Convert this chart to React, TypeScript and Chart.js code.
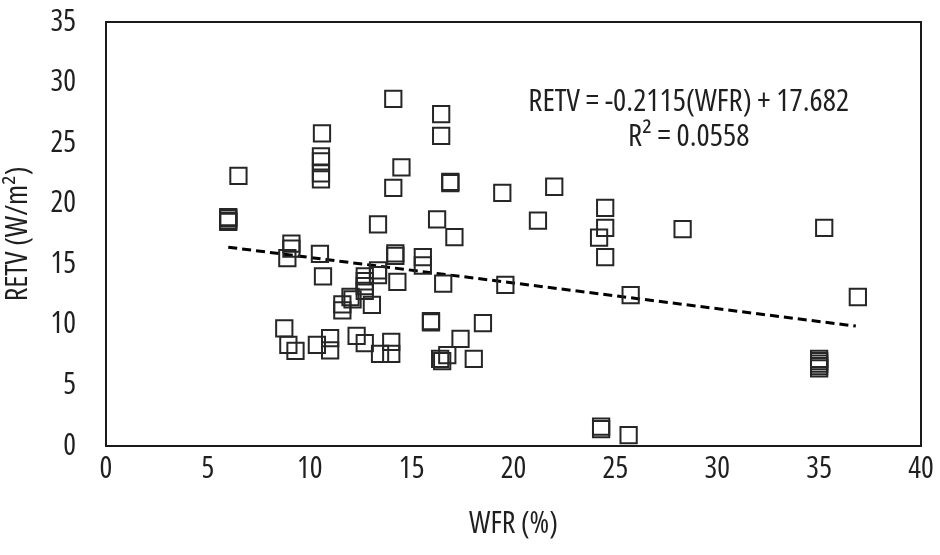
import React, { useEffect, useRef } from "react";
import { Chart, registerables } from "chart.js";

Chart.register(...registerables);

// WFR (%) values
const wfr: number[] = [
  6.0, 6.0, 6.0, 6.0, 6.5, 8.75, 8.95, 9.3, 8.9, 9.1, 9.1, 10.5, 10.65, 10.6,
  10.55, 10.55, 10.55, 10.55, 10.35, 11.0, 11.0, 11.6, 11.6, 12.0, 12.1, 12.3,
  12.7, 12.7, 12.7, 12.7, 12.7, 13.05, 13.35, 13.35, 13.35, 13.45, 14.1, 14.1,
  14.0, 14.0, 14.2, 14.2, 14.3, 14.5, 15.55, 15.55, 15.95, 15.95, 16.25, 16.45,
  16.45, 16.55, 16.4, 16.5, 16.75, 16.9, 16.9, 17.1, 17.4, 18.05, 18.5, 19.45,
  19.6, 21.2, 22.0, 24.2, 24.5, 24.5, 24.5, 24.3, 24.3, 25.65, 25.75, 28.3,
  35.25, 35.0, 35.0, 35.0, 35.0, 35.0, 36.9,
];
// RETV (W/m2) values
const retv: number[] = [
  18.9, 18.8, 18.6, 18.5, 22.3, 9.7, 8.35, 7.85, 15.5, 16.7, 16.3, 15.85, 14.0,
  25.8, 23.9, 23.5, 22.5, 22.0, 8.35, 8.9, 7.9, 11.7, 11.2, 12.3, 12.1, 9.1,
  8.5, 14.0, 13.6, 13.2, 12.8, 11.65, 18.3, 14.5, 14.1, 7.6, 28.65, 21.3, 8.6,
  7.6, 15.9, 15.7, 13.55, 23.0, 15.6, 14.9, 10.3, 10.2, 18.7, 27.4, 25.6, 13.4,
  7.2, 7.0, 7.5, 21.7, 21.8, 17.25, 8.85, 7.2, 10.15, 20.9, 13.3, 18.6, 21.4,
  17.2, 19.65, 18.0, 15.6, 1.6, 1.4, 0.9, 12.45, 17.9, 18.0, 7.2, 7.0, 6.8, 6.6,
  6.4, 12.3,
];

// Trendline from the equation shown on the chart
const slope = -0.2115;
const intercept = 17.682;
const trendRange: number[] = [6.0, 36.8];

const xTicks = { min: 0, max: 40, step: 5 };
const yTicks = { min: 0, max: 35, step: 5 };

const eqLines: string[] = ["RETV = -0.2115(WFR) + 17.682", "R² = 0.0558"];
const eqAnchor = { x: 28.6, y1: 28.4, y2: 25.5 };

const FONT = "'Open Sans', sans-serif";
const STRETCH = "condensed";
const TXT = "#1f1f1f";

export default function App() {
  const ref = useRef<HTMLCanvasElement | null>(null);

  useEffect(() => {
    if (!ref.current) return;
    const pts = wfr.map((x, i) => ({ x, y: retv[i] }));
    const trend = trendRange.map((x) => ({ x, y: slope * x + intercept }));

    const stretchPlugin = {
      id: "stretch",
      beforeDraw(chart: any) {
        try { (chart.ctx as any).fontStretch = STRETCH; } catch (e) {}
      },
    };

    const framePlugin = {
      id: "frame",
      afterDatasetsDraw(chart: any) {
        const { ctx, chartArea: a } = chart;
        ctx.save();
        ctx.strokeStyle = "#1a1a1a";
        ctx.lineWidth = 2;
        ctx.strokeRect(a.left, a.top, a.right - a.left, a.bottom - a.top);
        const xs = chart.scales.x;
        const ys = chart.scales.y;
        ctx.fillStyle = TXT;
        ctx.font = `${STRETCH} 31px ${FONT}`;
        try { (ctx as any).fontStretch = STRETCH; } catch (e) {}
        ctx.textAlign = "center";
        ctx.textBaseline = "middle";
        const cx = xs.getPixelForValue(eqAnchor.x);
        ctx.fillText(eqLines[0], cx, ys.getPixelForValue(eqAnchor.y1));
        ctx.fillText(eqLines[1], cx, ys.getPixelForValue(eqAnchor.y2));
        ctx.restore();
      },
    };

    const tickFont = { family: FONT, size: 30, weight: STRETCH as any };

    const chart = new Chart(ref.current, {
      type: "scatter",
      data: {
        datasets: [
          {
            label: "RETV",
            data: pts,
            pointStyle: "rect",
            pointRadius: 11.5,
            pointBorderWidth: 2,
            pointBorderColor: "#262626",
            pointBackgroundColor: "rgba(0,0,0,0)",
            showLine: false,
          } as any,
          {
            type: "line",
            label: "Trend",
            data: trend,
            borderColor: "#000",
            borderWidth: 3,
            borderDash: [9, 5],
            pointRadius: 0,
            fill: false,
          } as any,
        ],
      },
      options: {
        responsive: false,
        animation: false,
        layout: { padding: 0 },
        plugins: { legend: { display: false }, tooltip: { enabled: false } },
        scales: {
          x: {
            type: "linear",
            min: xTicks.min,
            max: xTicks.max,
            grid: { display: false, drawTicks: false },
            border: { display: false },
            ticks: {
              stepSize: xTicks.step,
              color: TXT,
              font: tickFont,
              padding: 5,
              maxRotation: 0,
            },
            title: {
              display: true,
              text: "WFR (%)",
              color: TXT,
              font: tickFont,
              padding: { top: 0, bottom: 13 },
            },
            afterFit: (s: any) => {
              s.height = 109;
              s.paddingLeft = 0;
              s.paddingRight = 19;
            },
          },
          y: {
            type: "linear",
            min: yTicks.min,
            max: yTicks.max,
            grid: { display: false, drawTicks: false },
            border: { display: false },
            ticks: {
              stepSize: yTicks.step,
              color: TXT,
              font: tickFont,
              padding: 30,
            },
            title: {
              display: true,
              text: "RETV (W/m²)",
              color: TXT,
              font: tickFont,
              padding: { top: 0, bottom: 0 },
            },
            afterFit: (s: any) => {
              s.width = 106;
              s.paddingTop = 22;
              s.paddingBottom = 0;
            },
          },
        },
      },
      plugins: [stretchPlugin, framePlugin],
    });
    return () => chart.destroy();
  }, []);

  return (
    <div style={{ position: "absolute", left: 0, top: 0, width: 940, height: 555, background: "#fff" }}>
      <canvas ref={ref} width={940} height={555} style={{ width: 940, height: 555 }} />
    </div>
  );
}
